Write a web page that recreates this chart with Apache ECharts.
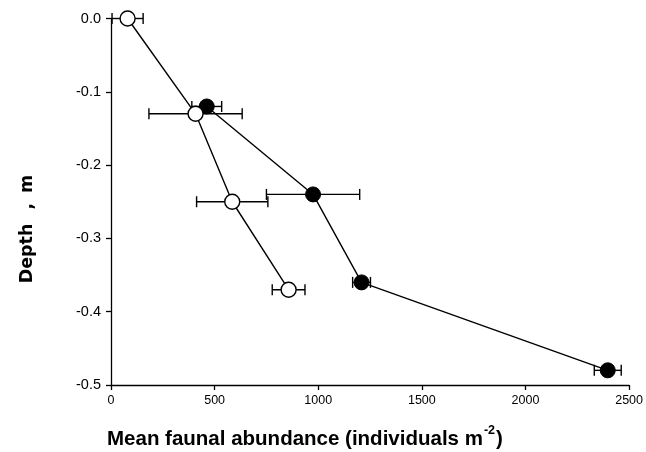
<!DOCTYPE html>
<html><head><meta charset="utf-8">
<script src="https://cdn.jsdelivr.net/npm/echarts@6/dist/echarts.min.js"></script>
<style>html,body{margin:0;padding:0;background:#fff}#c{width:646px;height:452px}</style>
</head><body><div id="c"></div>
<script>
// Open circles
const openDepth = [0.0, -0.13, -0.25, -0.37];
const openAbund = [80, 408, 585, 857];
const openErr = [75, 225, 172, 79];
// Filled circles
const fillDepth = [-0.12, -0.24, -0.36, -0.48];
const fillAbund = [462, 975, 1209, 2397];
const fillErr = [72, 225, 43, 65];
const xTicks = [0, 500, 1000, 1500, 2000, 2500];
const yTicks = [0.0, -0.1, -0.2, -0.3, -0.4, -0.5];

const font = '"Liberation Sans", Arial, sans-serif';
function pts(xs, ys){ return xs.map((x,i)=>[x, ys[i]]); }
function errData(xs, ys, es){ return xs.map((x,i)=>[x - es[i], x + es[i], ys[i]]); }
function errSeries(data){
  return {
    type:'custom', z:1, silent:true,
    renderItem:function(params, api){
      const a = api.coord([api.value(0), api.value(2)]);
      const b = api.coord([api.value(1), api.value(2)]);
      const h = 5.5;
      const st = {stroke:'#000', lineWidth:1.4};
      return {type:'group', children:[
        {type:'line', shape:{x1:a[0],y1:a[1],x2:b[0],y2:b[1]}, style:st},
        {type:'line', shape:{x1:a[0],y1:a[1]-h,x2:a[0],y2:a[1]+h}, style:st},
        {type:'line', shape:{x1:b[0],y1:b[1]-h,x2:b[0],y2:b[1]+h}, style:st}
      ]};
    },
    encode:{x:[0,1], y:2},
    data:data
  };
}
const chart = echarts.init(document.getElementById('c'));
chart.setOption({
  animation:false,
  backgroundColor:'#fff',
  grid:{left:111, right:14, top:18.5, bottom:67},
  graphic:[
    {type:'text', left:107, top:424, silent:true,
      style:{rich:{
        b:{fontFamily:font, fontWeight:'bold', fontSize:20.5, fill:'#000', lineHeight:26, verticalAlign:'bottom'},
        s:{fontFamily:font, fontWeight:'bold', fontSize:12.5, fill:'#000', lineHeight:26, verticalAlign:'top', padding:[0,1,12,1]}
      }, text:'{b|Mean faunal abundance (individuals m}{s|-2}{b|)}'}},
    {type:'text', x:27, y:229, rotation:Math.PI/2, silent:true,
      style:{rich:{
        b:{fontFamily:'"DejaVu Sans", sans-serif', fontWeight:'bold', fontSize:17.5, fill:'#000'},
        c:{fontFamily:'"DejaVu Sans", sans-serif', fontWeight:'bold', fontSize:17.5, fill:'#000', padding:[0,10,0,14]}
      }, text:'{b|Depth}{c|,}{b|m}', align:'center', verticalAlign:'middle'}}
  ],
  xAxis:{
    type:'value', min:0, max:2500, interval:500,
    axisLine:{onZero:false, lineStyle:{color:'#000', width:1.3}},
    axisTick:{show:true, length:5, lineStyle:{color:'#000', width:1.3}},
    axisLabel:{fontFamily:font, fontSize:12.5, color:'#000', margin:9,
      formatter:function(v){ return xTicks.indexOf(v)>=0 ? String(v) : ''; }},
    splitLine:{show:false}
  },
  yAxis:{
    type:'value', min:-0.5, max:0, interval:0.1,
    axisLine:{show:true, onZero:false, lineStyle:{color:'#000', width:1.3}},
    axisTick:{show:true, length:5, lineStyle:{color:'#000', width:1.3}},
    axisLabel:{fontFamily:font, fontSize:14.5, color:'#000', margin:10,
      formatter:function(v){ const r=Math.round(v*10)/10; return yTicks.indexOf(r)>=0 ? r.toFixed(1) : ''; }},
    splitLine:{show:false}
  },
  series:[
    errSeries(errData(fillAbund, fillDepth, fillErr)),
    errSeries(errData(openAbund, openDepth, openErr)),
    {type:'line', z:3, data:pts(fillAbund, fillDepth), symbol:'circle', symbolSize:15,
      lineStyle:{color:'#000', width:1.4}, itemStyle:{color:'#000', borderColor:'#000', borderWidth:1}},
    {type:'line', z:4, data:pts(openAbund, openDepth), symbol:'circle', symbolSize:15,
      lineStyle:{color:'#000', width:1.4}, itemStyle:{color:'#fff', borderColor:'#000', borderWidth:1.4}}
  ]
});
</script></body></html>
